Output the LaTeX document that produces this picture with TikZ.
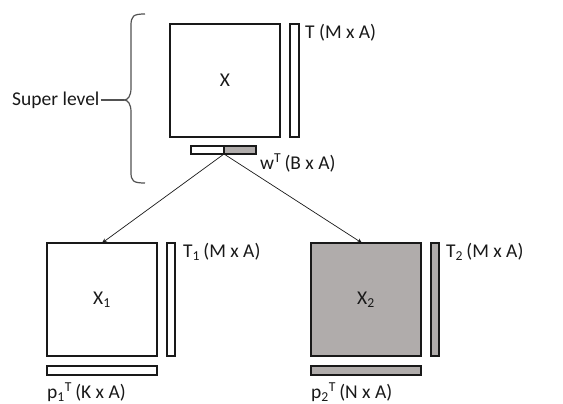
\documentclass[tikz,border=0pt]{standalone}
\usepackage{fontspec}
\setmainfont{Carlito}
\usetikzlibrary{arrows.meta}
\definecolor{matgray}{RGB}{176,172,171}
\definecolor{ink}{RGB}{25,25,25}
\begin{document}
\begin{tikzpicture}[x=1pt,y=-1pt,
  mat/.style={draw=ink,line width=1.9pt,inner sep=0pt,outer sep=0pt},
  lbl/.style={font=\fontsize{19.5}{22}\selectfont,inner sep=0pt,anchor=west,text=ink},
  link/.style={draw=ink,line width=0.7pt,-{Stealth[length=5pt,width=4.5pt]}}]
\useasboundingbox (0,0) rectangle (563,404);

% super level: matrix X with score bar T and weight bar w
\node[mat,fill=white,minimum width=110pt,minimum height=113pt] (X) at (225,80.5) {};
\node[lbl,anchor=center] (Xl) at (X.center) {X};
\node[mat,fill=white,minimum width=9pt,minimum height=113pt] (T) at (294.5,80.5) {};
\node[lbl] (Tl) at (305,33) {T (M x A)};
\node[mat,fill=white,minimum width=33pt,minimum height=8pt] (wa) at (207.5,150) {};
\node[mat,fill=matgray,minimum width=32pt,minimum height=8pt] (wb) at (240,150) {};
\coordinate (wsplit) at (224,154);
\node[lbl] (wl) at (260,163) {w\textsuperscript{T}\,(B x A)};

% brace gathering the super level
\coordinate (tip) at (124,100);
\draw[draw=ink!75,line width=1.2pt] (145,14) .. controls (133,14) and (131,16) .. (131,26)
  -- (131,88) .. controls (131,96) and (128,100) .. (tip)
  .. controls (128,100) and (131,104) .. (131,112)
  -- (131,172) .. controls (131,181) and (133,183) .. (145,183);
\node[lbl] (SL) at (12,100) {Super level};
\draw[draw=ink!75,line width=1.2pt] (SL.east) ++(1pt,0) -- (tip);

% lower level: left block
\node[mat,fill=white,minimum width=110pt,minimum height=113pt] (X1) at (102,299.5) {};
\node[lbl,anchor=center] (X1l) at (X1.center) {X\textsubscript{1}};
\node[mat,fill=white,minimum width=8pt,minimum height=113pt] (T1) at (171,299.5) {};
\node[lbl] (T1l) at (183,252) {T\textsubscript{1}\,(M x A)};
\node[mat,fill=white,minimum width=110pt,minimum height=9pt] (p1) at (102,370.5) {};
\node[lbl] (p1l) at (47,392) {p\textsubscript{1}\textsuperscript{T}\,(K x A)};

% lower level: right block
\node[mat,fill=matgray,minimum width=110pt,minimum height=113pt] (X2) at (366,299.5) {};
\node[lbl,anchor=center] (X2l) at (X2.center) {X\textsubscript{2}};
\node[mat,fill=matgray,minimum width=8pt,minimum height=113pt] (T2) at (435,299.5) {};
\node[lbl] (T2l) at (446,252) {T\textsubscript{2}\,(M x A)};
\node[mat,fill=matgray,minimum width=110pt,minimum height=9pt] (p2) at (366,370.5) {};
\node[lbl] (p2l) at (311,392) {p\textsubscript{2}\textsuperscript{T}\,(N x A)};

% split arrows
\draw[link] (wsplit) -- (X1.north);
\draw[link] (wsplit) -- ([xshift=-4pt]X2.north);
\end{tikzpicture}
\end{document}
